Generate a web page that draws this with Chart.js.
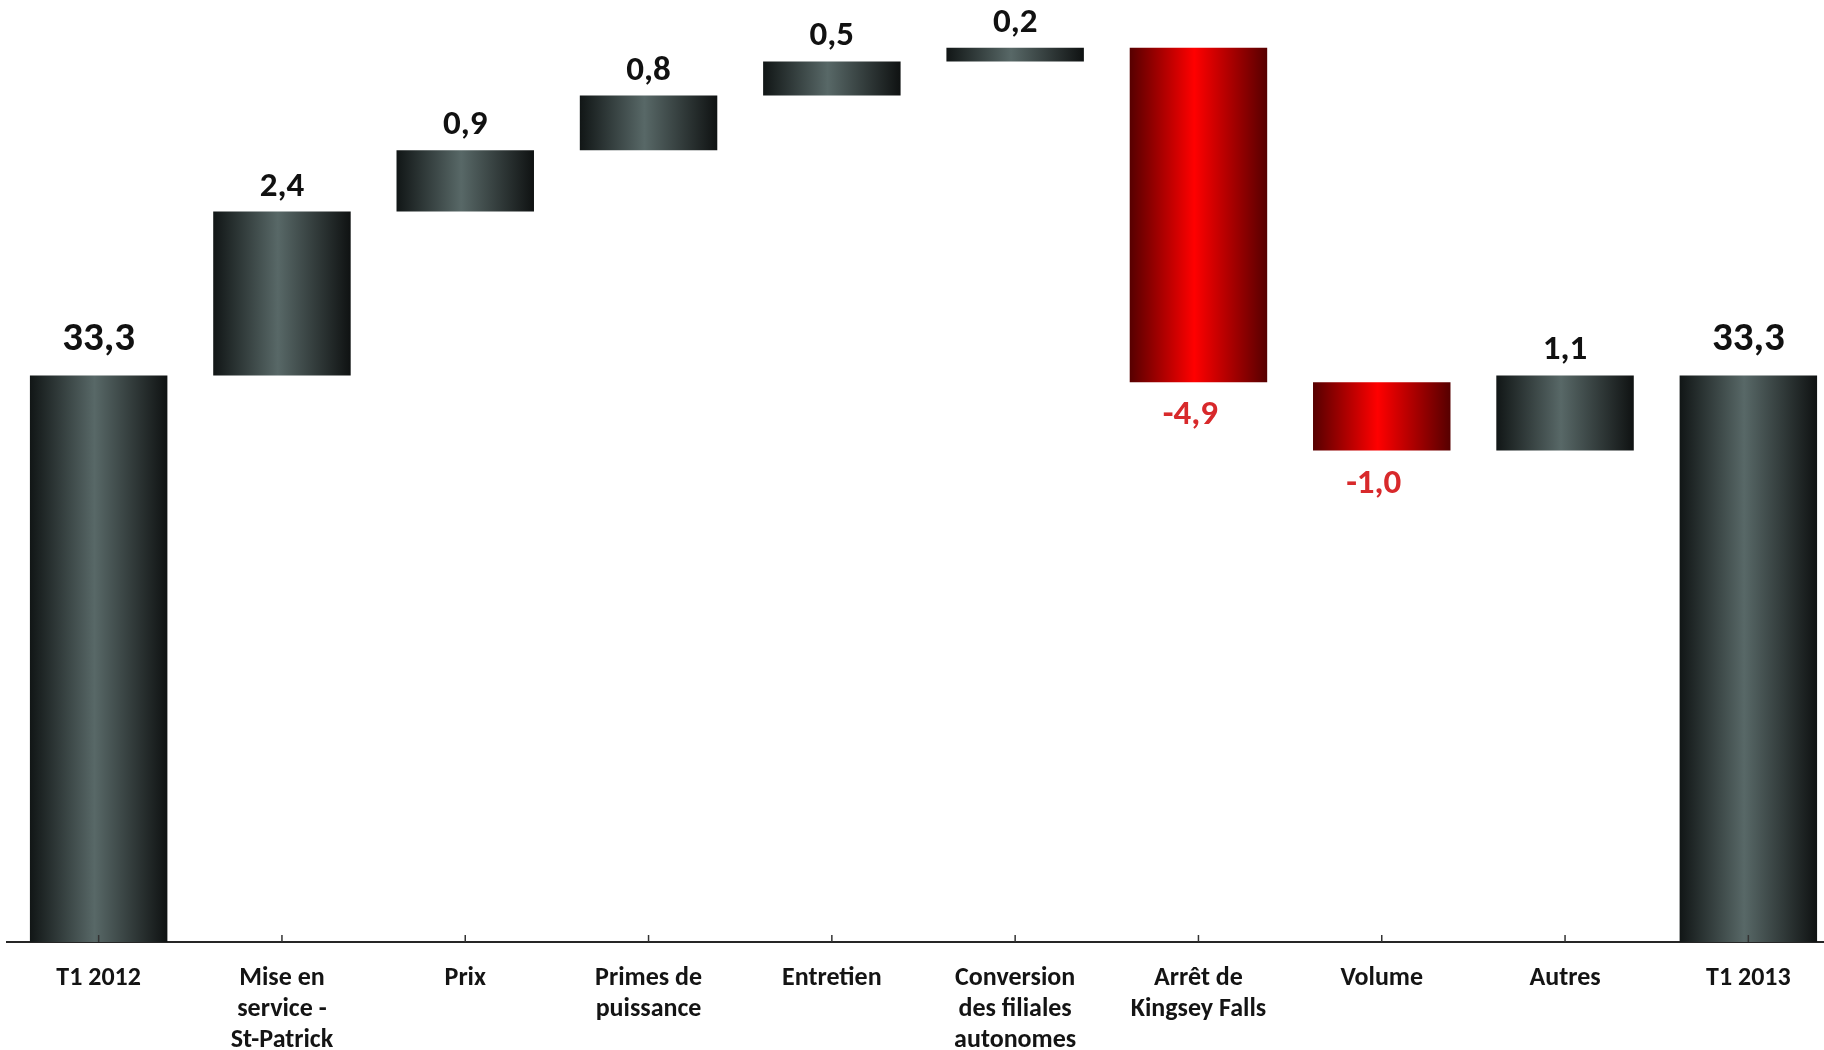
<!DOCTYPE html>
<html lang="fr">
<head>
<meta charset="utf-8">
<title>T1 2012 - T1 2013</title>
<script src="https://cdn.jsdelivr.net/npm/chart.js@4.4.1/dist/chart.umd.min.js"></script>
<style>
    html, body { margin: 0; padding: 0; background: #ffffff; overflow: hidden; }
    #cadre { position: relative; width: 1840px; height: 1050px; }
</style>
</head>
<body>
<div id="cadre"><canvas id="graphiqueEcart"></canvas></div>
<script>
const categories = [
    ["T1 2012"],
    ["Mise en", "service -", "St-Patrick"],
    ["Prix"],
    ["Primes de", "puissance"],
    ["Entretien"],
    ["Conversion", "des filiales", "autonomes"],
    ["Arrêt de", "Kingsey Falls"],
    ["Volume"],
    ["Autres"],
    ["T1 2013"]
];
const valeurDepart = 33.3;
const variations = [2.4, 0.9, 0.8, 0.5, 0.2, -4.9, -1.0, 1.1];
const valeurFin = 33.3;

const axeMin = 25;      // l'axe ne part pas de zéro
const axeMax = 38.8;

const police = 'Carlito, "Liberation Sans Narrow", "Open Sans", sans-serif';

// barres flottantes : [bas, haut] pour chaque catégorie
let barres = [[axeMin, valeurDepart]];
let valeurs = [valeurDepart];
let cumul = valeurDepart;
variations.forEach((v) => {
    barres.push([cumul, cumul + v]);
    valeurs.push(v);
    cumul += v;
});
barres.push([axeMin, valeurFin]);
valeurs.push(valeurFin);

function estNegatif(i) {
    return i > 0 && i < valeurs.length - 1 && valeurs[i] < 0;
}

// dégradé horizontal façon Excel
function degrade(context) {
    const i = context.dataIndex;
    const couleurs = (i !== undefined && estNegatif(i))
        ? ['#560000', '#ff0000', '#560000']
        : ['#111616', '#586867', '#0f1212'];
    const chart = context.chart;
    if (!chart.chartArea || i === undefined) {
        return couleurs[1];
    }
    const x = chart.scales.x;
    const centre = x.getPixelForValue(i);
    const demi = (x.width / categories.length) * 0.75 / 2;
    const g = chart.ctx.createLinearGradient(centre - demi, 0, centre + demi, 0);
    g.addColorStop(0, couleurs[0]);
    g.addColorStop(0.47, couleurs[1]);
    g.addColorStop(1, couleurs[2]);
    return g;
}

// valeurs au-dessus / au-dessous des barres
const etiquettes = {
    id: 'etiquettes',
    afterDatasetsDraw(chart) {
        const ctx = chart.ctx;
        const meta = chart.getDatasetMeta(0);
        meta.data.forEach((barre, i) => {
            const v = valeurs[i];
            const total = (i === 0 || i === valeurs.length - 1);
            const texte = v.toFixed(1).replace(".", ",");
            const haut = Math.min(barre.y, barre.base);
            const bas = Math.max(barre.y, barre.base);
            ctx.save();
            ctx.font = "bold " + (total ? 41 : 35) + "px " + police;
            ctx.textAlign = "center";
            ctx.textBaseline = "alphabetic";
            if (v < 0) {
                ctx.fillStyle = "#d8292b";
                ctx.fillText(texte, barre.x - 8, bas + 42);
            } else {
                ctx.fillStyle = "#111111";
                ctx.fillText(texte, barre.x, haut - (total ? 25 : 16));
            }
            ctx.restore();
        });
    }
};

// petites graduations vers le haut sur l'axe des catégories
const graduations = {
    id: 'graduations',
    afterDraw(chart) {
        const ctx = chart.ctx;
        const x = chart.scales.x;
        const y0 = chart.chartArea.bottom;
        ctx.save();
        ctx.strokeStyle = "#333333";
        ctx.lineWidth = 1.5;
        x.ticks.forEach((t, i) => {
            const px = x.getPixelForTick(i);
            ctx.beginPath();
            ctx.moveTo(px, y0 - 7);
            ctx.lineTo(px, y0);
            ctx.stroke();
        });
        ctx.restore();
    }
};

addEventListener("DOMContentLoaded", () => {
    const ctx = document.getElementById("graphiqueEcart").getContext("2d");
    new Chart(ctx, {
        type: "bar",
        data: {
            labels: categories,
            datasets: [{
                data: barres,
                backgroundColor: degrade,
                borderWidth: 0,
                barPercentage: 0.75,
                categoryPercentage: 1.0
            }]
        },
        options: {
            responsive: true,
            maintainAspectRatio: false,
            animation: false,
            layout: { padding: { left: 7, right: 0, top: 0, bottom: 0 } },
            plugins: {
                legend: { display: false },
                tooltip: { enabled: false }
            },
            scales: {
                x: {
                    afterFit: (scale) => { scale.height = 108; },
                    grid: { display: false, drawTicks: false },
                    border: { display: true, color: "#262626", width: 2 },
                    ticks: {
                        autoSkip: false,
                        maxRotation: 0,
                        padding: 21,
                        color: "#141414",
                        font: { family: police, size: 26, weight: "bold", lineHeight: 1.19 }
                    }
                },
                y: {
                    display: false,
                    min: axeMin,
                    max: axeMax
                }
            }
        },
        plugins: [etiquettes, graduations]
    });
});
</script>
</body>
</html>
